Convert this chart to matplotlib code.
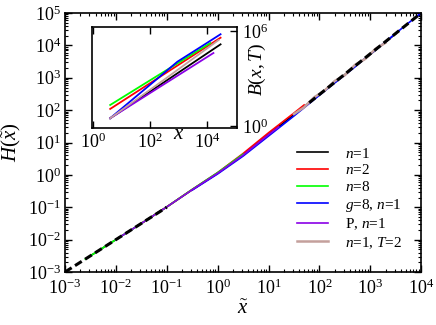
import numpy as np
import matplotlib
matplotlib.use("Agg")
import matplotlib.pyplot as plt
from matplotlib.ticker import LogLocator, NullFormatter, FuncFormatter

plt.rcParams["font.family"] = "serif"
plt.rcParams["font.serif"] = ["Liberation Serif", "DejaVu Serif"]
plt.rcParams["mathtext.fontset"] = "custom"
plt.rcParams["mathtext.rm"] = "Liberation Serif"
plt.rcParams["mathtext.it"] = "Liberation Serif:italic"
plt.rcParams["mathtext.bf"] = "Liberation Serif:bold"

# main panel: log10 values of x~ and H(x~)
n1_logx = [-2.5, -2, -1.5, -1, -0.5, 0, 0.5, 1, 1.5, 2, 2.5, 3, 3.5]
n1_logH = [-2.5, -2, -1.5, -0.99, -0.46, 0.05, 0.62, 1.25, 1.86, 2.48, 3.1, 3.72, 4.36]

n2_logx = [-1.5, -1, -0.5, 0, 0.5, 1, 1.5, 1.7]
n2_logH = [-1.5, -0.99, -0.45, 0.07, 0.66, 1.30, 1.91, 2.16]

n8_logx = [-2.6, -2, -1.5, -1, -0.5, 0, 0.5]
n8_logH = [-2.6, -2, -1.5, -0.99, -0.45, 0.07, 0.64]

g8_logx = [-0.5, 0, 0.5, 1, 1.5, 2, 2.3, 2.5, 2.8, 3, 3.2, 3.5, 3.7, 4]
g8_logH = [-0.47, 0.03, 0.58, 1.2, 1.82, 2.46, 2.84, 3.08, 3.47, 3.73, 3.98, 4.37, 4.63, 5.0]

p_logx = [-2, -1.5, -1, -0.5, 0, 0.5, 1, 1.2]
p_logH = [-2, -1.5, -0.99, -0.46, 0.05, 0.61, 1.24, 1.48]

t2_logx = [1.5, 1.7, 1.9, 2.1, 2.3, 2.5, 2.7, 2.9, 3.1, 3.3]
t2_logH = [1.88, 2.09, 2.40, 2.60, 2.90, 3.08, 3.40, 3.58, 3.89, 4.08]

# asymptotes (dashed)
small_logx = [-3, -1]
small_logH = [-3, -1]
large_logx = [1.8, 4.0]
large_logH = [2.23, 5.0]

# inset: log10 x and log10 B(x,T)
in_n1_logx = [0.6, 2.5, 4.46]
in_n1_logB = [0.49, 2.79, 5.17]
in_n2_logx = [0.6, 2.5, 4.46]
in_n2_logB = [1.08, 3.3, 5.59]
in_n8_logx = [0.6, 2.35, 4.1]
in_n8_logB = [1.33, 3.29, 5.25]
in_g8_logx = [0.6, 1.5, 2.2, 2.95, 3.7, 4.46]
in_g8_logB = [0.49, 1.86, 2.92, 4.07, 4.93, 5.81]
in_p_logx = [0.6, 2.4, 4.21]
in_p_logB = [0.49, 2.55, 4.62]
in_t2_logx = [0.6, 2.5, 4.39]
in_t2_logB = [0.49, 2.95, 5.44]

series = [
    (n1_logx, n1_logH, in_n1_logx, in_n1_logB, "black", r"$n$=1"),
    (n2_logx, n2_logH, in_n2_logx, in_n2_logB, "#ff0000", r"$n$=2"),
    (n8_logx, n8_logH, in_n8_logx, in_n8_logB, "#00ff00", r"$n$=8"),
    (g8_logx, g8_logH, in_g8_logx, in_g8_logB, "#0000ff", r"$g$=8, $n$=1"),
    (p_logx, p_logH, in_p_logx, in_p_logB, "#8a00e6", r"P, $n$=1"),
    (t2_logx, t2_logH, in_t2_logx, in_t2_logB, "#c4a09c", r"$n$=1, $T$=2"),
]


def pw(a):
    return 10.0 ** np.asarray(a, dtype=float)


def pow_label(v, pos):
    e = int(round(np.log10(v)))
    return r"$\mathrm{10}^{\mathrm{%d}}$" % e


def style_axis(ax, size):
    ax.tick_params(which="both", direction="in", top=True, right=True,
                   labelsize=size)
    ax.tick_params(which="major", length=5, width=1)
    ax.tick_params(which="minor", length=2.5, width=0.8)
    for s in ax.spines.values():
        s.set_linewidth(1.2)


fig = plt.figure(figsize=(4.36, 3.25), dpi=100)
ax = fig.add_axes([0.149, 0.163, 0.817, 0.797])

for lx, lh, _, _, c, lab in series:
    lw = 1.8 if c == "#c4a09c" else 1.2
    ax.plot(pw(lx), pw(lh), color=c, lw=lw, label=lab)

ax.plot(pw(small_logx), pw(small_logH), color="black", lw=2.2, dashes=(2.6, 1.3))
ax.plot(pw(large_logx), pw(large_logH), color="black", lw=2.2, dashes=(2.6, 1.3))

ax.set_xscale("log")
ax.set_yscale("log")
ax.set_xlim(1e-3, 1e4)
ax.set_ylim(1e-3, 1e5)
ax.xaxis.set_major_locator(LogLocator(base=10, numticks=20))
ax.yaxis.set_major_locator(LogLocator(base=10, numticks=20))
ax.xaxis.set_minor_locator(LogLocator(base=10, subs=np.arange(2, 10), numticks=20))
ax.yaxis.set_minor_locator(LogLocator(base=10, subs=np.arange(2, 10), numticks=20))
ax.xaxis.set_major_formatter(FuncFormatter(pow_label))
ax.yaxis.set_major_formatter(FuncFormatter(pow_label))
ax.xaxis.set_minor_formatter(NullFormatter())
ax.yaxis.set_minor_formatter(NullFormatter())
style_axis(ax, 13)
ax.tick_params(axis="x", which="major", pad=5)
ax.tick_params(axis="y", which="major", pad=3)
ax.set_xlabel(r"$\tilde{x}$", fontsize=15, labelpad=1)
ax.set_ylabel(r"$H(\tilde{x})$", fontsize=15)
ax.yaxis.set_label_coords(-0.118, 0.5)

ax.legend(loc="lower right", bbox_to_anchor=(0.985, 0.03), frameon=False,
          fontsize=11, handlelength=2.0, handletextpad=1.1, labelspacing=0.18)

# inset
ins = fig.add_axes([0.211, 0.606, 0.333, 0.311])
for _, _, ix, ib, c, _ in series:
    ins.plot(pw(ix), pw(ib), color=c, lw=1.3)
ins.set_xscale("log")
ins.set_yscale("log")
ins.set_xlim(0.92, 1.1e5)
ins.set_ylim(0.74, 1.86e6)
ins.set_xticks([1, 1e2, 1e4])
ins.set_yticks([1, 1e6])
ins.xaxis.set_major_formatter(FuncFormatter(pow_label))
ins.yaxis.set_major_formatter(FuncFormatter(pow_label))
ins.xaxis.set_minor_locator(plt.NullLocator())
ins.yaxis.set_minor_locator(plt.NullLocator())
style_axis(ins, 13)
ins.tick_params(which="both", labelleft=False, labelright=True, left=False)
ins.set_xlabel(r"$x$", fontsize=15, va="center")
ins.xaxis.set_label_coords(0.60, -0.06)
ins.set_ylabel(r"$B(x,T)$", fontsize=14)
ins.yaxis.set_label_position("right")
ins.yaxis.set_label_coords(1.07, 0.58)

fig.savefig("out.png", dpi=100)
